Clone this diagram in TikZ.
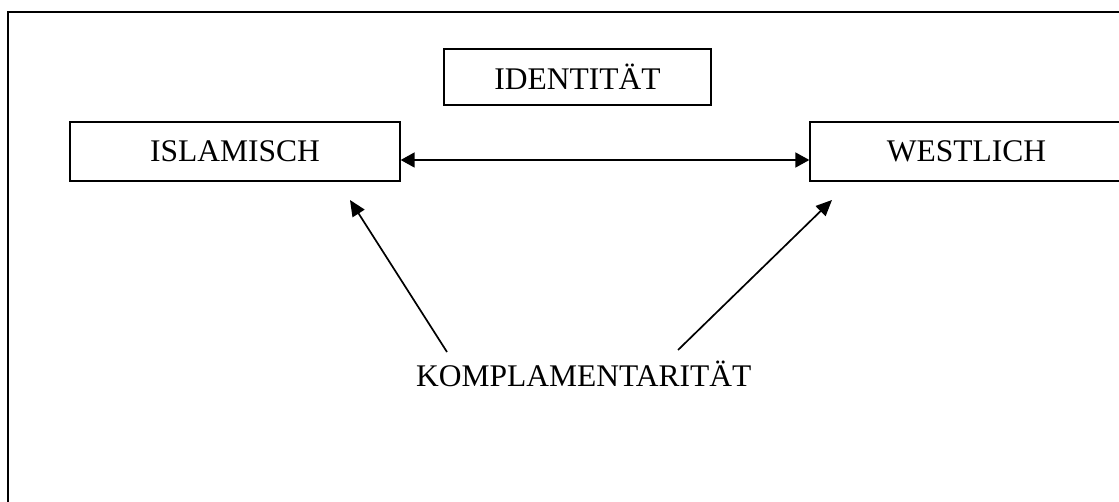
\documentclass[tikz,border=0pt]{standalone}
\usepackage{fontspec}
\setmainfont{Liberation Serif}
\usetikzlibrary{arrows.meta}

\tikzset{
  term/.style={draw, line width=1.3pt, inner sep=0pt, font=\fontsize{31.5}{36}\selectfont},
  label/.style={inner sep=0pt, font=\fontsize{31.5}{36}\selectfont},
  link/.style={line width=1.7pt, -{Triangle[length=16pt,width=14pt]}},
  both/.style={line width=1.7pt, {Triangle[length=14pt,width=15pt]}-{Triangle[length=14pt,width=15pt]}},
  frame/.style={line width=2pt}
}

\begin{document}
\begin{tikzpicture}[x=1pt,y=-1pt]
  \useasboundingbox (0,0) rectangle (1119,502);
  \clip (0,0) rectangle (1119,502);

  % page frame
  \draw[frame] (8,540) -- (8,12) -- (1140,12);

  % the three terms
  \node[term, minimum width=267pt, minimum height=56pt] (ident) at (577.5,77) {IDENTITÄT};
  \node[term, minimum width=330pt, minimum height=59pt] (islam) at (235,151.5) {ISLAMISCH};
  \node[term, minimum width=313pt, minimum height=59pt] (west)  at (966.5,151.5) {WESTLICH};

  % bottom label
  \node[label, anchor=base west] (kompl) at (416,387) {KOMPLAMENTARITÄT};

  % relation between the two terms
  \draw[both] ([yshift=-8.5pt]islam.east) -- ([yshift=-8.5pt]west.west);

  % arrows from the label up to the terms
  \coordinate (kl) at (447,352);
  \coordinate (kr) at (678,350);
  \coordinate (tl) at (350,200);
  \coordinate (tr) at (832,200);
  \draw[link] (kl) -- (tl);
  \draw[link] (kr) -- (tr);
\end{tikzpicture}
\end{document}
